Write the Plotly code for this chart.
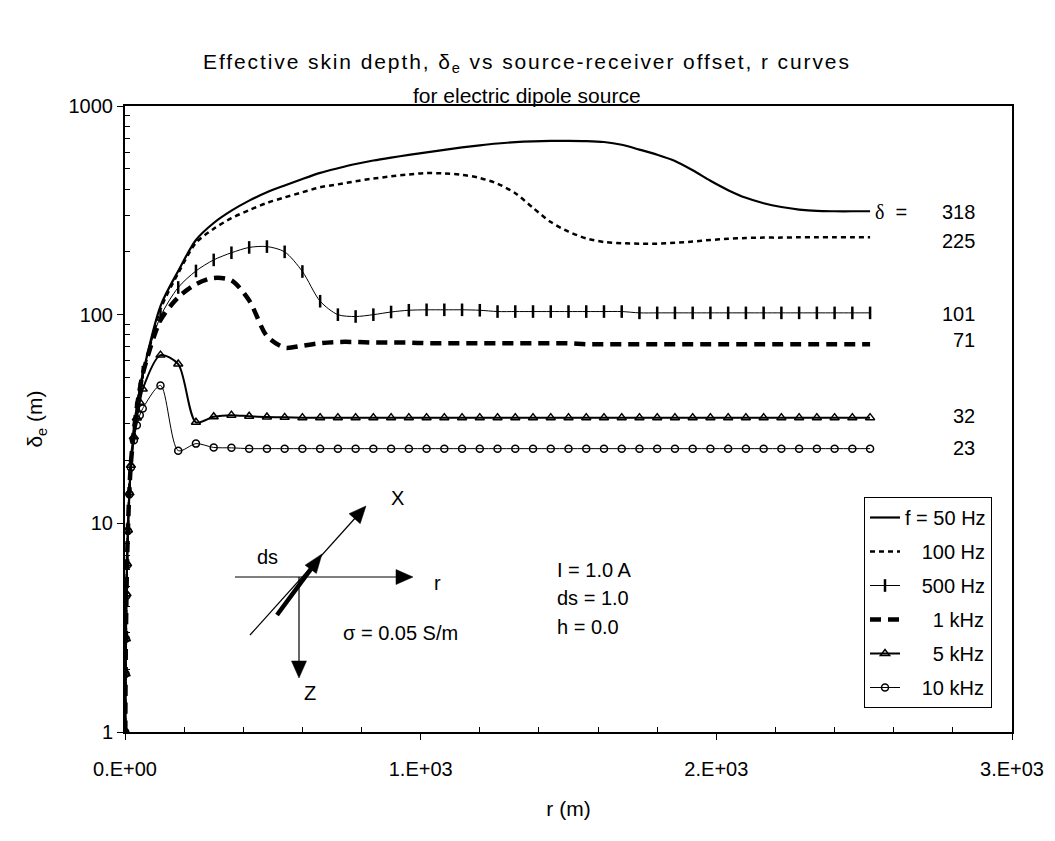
import math
import plotly.graph_objects as go

# ---------------- data ----------------
r_near = [1, 2, 3, 5, 7, 10, 15, 20, 30, 40, 50]
r_far = [60, 120, 180, 240, 300, 360,
         420, 480, 540, 600, 660, 720,
         780, 840, 900, 960, 1020, 1080,
         1140, 1200, 1260, 1320, 1380, 1440,
         1500, 1560, 1620, 1680, 1740, 1800,
         1860, 1920, 1980, 2040, 2100, 2160,
         2220, 2280, 2340, 2400, 2460, 2520]
r_m = r_near + r_far

d_50hz = [1.0, 1.9, 2.8, 4.6, 6.5, 9.5, 14.5, 19.5, 27.5, 36, 44,
          52, 110, 162, 228, 275, 315,
          352, 386, 416, 447, 478, 503,
          527, 548, 566, 583, 600, 616,
          633, 648, 661, 671, 677, 680,
          681, 679, 672, 652, 618, 584,
          545, 492, 438, 395, 363, 342,
          328, 319, 314, 313, 313, 313]
d_100hz = [1.0, 1.9, 2.8, 4.6, 6.5, 9.5, 14.5, 19.5, 27.5, 36, 44,
           51, 106, 158, 221, 258, 290,
           317, 343, 365, 386, 408, 421,
           436, 449, 460, 470, 477, 475,
           468, 452, 424, 382, 325, 278,
           250, 232, 223, 220, 219, 219,
           221, 224, 228, 231, 233, 234,
           234, 235, 235, 235, 235, 235]
d_500hz = [1.0, 1.9, 2.8, 4.6, 6.5, 9.5, 14.5, 19.5, 27.5, 36, 44,
           53, 98, 135, 162, 183, 198,
           210, 212, 200, 161, 116, 100,
           98, 100, 103, 105, 105.5, 105.5,
           105.5, 105, 103.5, 103.5, 103.5, 103.5,
           103.5, 103.5, 103.5, 103.5, 102, 102,
           102, 102, 102, 102, 102, 102,
           102, 102, 102, 102, 102, 102]
d_1khz = [1.0, 1.9, 2.8, 4.6, 6.5, 9.5, 14.5, 19.5, 27.5, 36, 44,
          52, 94, 121, 140, 150, 146,
          117, 79, 69.5, 71, 73, 74,
          74, 73.5, 73.5, 73.5, 73, 73,
          73, 73, 73, 73, 73, 73,
          73, 72.2, 72.2, 72.2, 72.2, 72.2,
          72.2, 72.2, 72.2, 72.2, 72.2, 72.2,
          72.2, 72.2, 72.2, 72.2, 72.2, 72.2]
d_5khz = [1.0, 1.9, 2.8, 4.6, 6.4, 9.3, 14, 19, 26, 32, 38,
          44, 64, 58, 30.5, 32.4, 33,
          32.6, 32.3, 32.2, 32.1, 32.1, 32.1,
          32.1, 32.1, 32.1, 32.1, 32.1, 32.1,
          32.1, 32.1, 32.1, 32.1, 32.1, 32.1,
          32.1, 32.1, 32.1, 32.1, 32.1, 32.1,
          32.1, 32.1, 32.1, 32.1, 32.1, 32.1,
          32.1, 32.1, 32.1, 32.1, 32.1, 32.1]
d_10khz = [1.0, 1.9, 2.8, 4.5, 6.3, 9.2, 13.8, 18.5, 25, 29.5, 33,
           35.5, 45.8, 22.3, 24.1, 23.1, 23.0,
           22.8, 22.8, 22.8, 22.8, 22.8, 22.8,
           22.8, 22.8, 22.8, 22.8, 22.8, 22.8,
           22.8, 22.8, 22.8, 22.8, 22.8, 22.8,
           22.8, 22.8, 22.8, 22.8, 22.8, 22.8,
           22.8, 22.8, 22.8, 22.8, 22.8, 22.8,
           22.8, 22.8, 22.8, 22.8, 22.8, 22.8]

NB = "\u00a0"
legend_names = ["f = 50 Hz", NB * 3 + "100 Hz", NB * 3 + "500 Hz",
                NB * 5 + "1 kHz", NB * 5 + "5 kHz", NB * 3 + "10 kHz"]
skin_depth_labels = [318, 225, 101, 71, 32, 23]
label_yshift = [-2, 0, 0, 6, 2, 0]

x_tickvals = [0, 1000, 2000, 3000]
x_ticktext = ["0.E+00", "1.E+03", "2.E+03", "3.E+03"]
y_tickvals = [1, 10, 100, 1000]
y_ticktext = ["1", "10", "100", "1000"]

# ---------------- figure ----------------
FONT = "Arial, Liberation Sans, sans-serif"
W, H = 1055, 841
L, R, T, B = 125, 1012, 106, 732   # plot area in pixels


def px(xp):
    return (xp - L) / (R - L)


def py(yp):
    return (B - yp) / (B - T)


fig = go.Figure()
sp = dict(shape="spline", smoothing=0.8)
fig.add_trace(go.Scatter(x=r_m, y=d_50hz, name=legend_names[0], mode="lines",
                         line=dict(color="black", width=2.2, **sp), legendgroup="a"))
fig.add_trace(go.Scatter(x=r_m, y=d_100hz, name=legend_names[1], mode="lines",
                         line=dict(color="black", width=2.5, dash="5px,4px", **sp), legendgroup="b"))
fig.add_trace(go.Scatter(x=r_m, y=d_500hz, name=legend_names[2], mode="lines+markers",
                         line=dict(color="black", width=1, **sp),
                         marker=dict(symbol="line-ns", size=9, color="black",
                                     line=dict(color="black", width=2.5)), legendgroup="c"))
fig.add_trace(go.Scatter(x=r_m, y=d_1khz, name=legend_names[3], mode="lines",
                         line=dict(color="black", width=4.5, dash="11px,7px", **sp), legendgroup="d"))
fig.add_trace(go.Scatter(x=r_m, y=d_5khz, name=legend_names[4], mode="lines+markers",
                         line=dict(color="black", width=2, **sp),
                         marker=dict(symbol="triangle-up-open", size=8, color="black",
                                     line=dict(color="black", width=1.5)), legendgroup="e"))
fig.add_trace(go.Scatter(x=r_m, y=d_10khz, name=legend_names[5], mode="lines+markers",
                         line=dict(color="black", width=1, **sp),
                         marker=dict(symbol="circle-open", size=7, color="black",
                                     line=dict(color="black", width=1.5)), legendgroup="f"))

annotations = []
# title (two lines)
annotations.append(dict(text="<span style='letter-spacing:1.9px'>Effective skin depth, δ<sub>e</sub> vs "
                             "source-receiver offset, r curves</span>",
                        xref="paper", yref="paper", x=px(527), y=py(63), showarrow=False,
                        xanchor="center", yanchor="middle", font=dict(size=21)))
annotations.append(dict(text="for electric dipole source",
                        xref="paper", yref="paper", x=px(527), y=py(96), showarrow=False,
                        xanchor="center", yanchor="middle", font=dict(size=21)))

# right-hand skin-depth labels
for v, ys in zip(skin_depth_labels, label_yshift):
    annotations.append(dict(text=str(v), xref="paper", yref="y", x=px(977), y=math.log10(v),
                            xanchor="right", yanchor="middle", yshift=ys,
                            showarrow=False, font=dict(size=20)))
annotations.append(dict(text="<span style='font-family:Liberation Serif, Times New Roman, serif'>δ</span>&nbsp;&nbsp;=",
                        xref="paper", yref="y", x=px(873), y=math.log10(skin_depth_labels[0]),
                        xanchor="left", yanchor="middle", yshift=label_yshift[0],
                        showarrow=False, font=dict(size=20)))


# inset diagram: arrows drawn as shapes (tail x0,y0 -> tip x1,y1 in pixels)
shapes = []


def arrow(x0, y0, x1, y1, width, hl, hw):
    dx, dy = x1 - x0, y1 - y0
    n = math.hypot(dx, dy)
    ux, uy = dx / n, dy / n
    bx, by = x1 - hl * ux, y1 - hl * uy
    nx, ny = -uy, ux
    shapes.append(dict(type="line", xref="paper", yref="paper",
                       x0=px(x0), y0=py(y0), x1=px(bx + 0.5 * ux), y1=py(by + 0.5 * uy),
                       line=dict(color="black", width=width)))
    pts = [(x1, y1), (bx + hw * nx, by + hw * ny), (bx - hw * nx, by - hw * ny)]
    path = "M " + " L ".join(f"{px(a):.5f},{py(b):.5f}" for a, b in pts) + " Z"
    shapes.append(dict(type="path", xref="paper", yref="paper", path=path,
                       fillcolor="black", line=dict(color="black", width=0.5)))


arrow(235, 577, 413, 577, 1.2, 17, 7.5)     # r
arrow(299, 577, 299, 678, 1.2, 17, 7.5)     # Z
arrow(250, 635, 366, 506, 1.2, 17, 7.5)     # X
arrow(277, 615, 322, 554, 4.5, 19, 7)       # ds


def label(text, x, y, anchor="center"):
    return dict(text=text, xref="paper", yref="paper", x=px(x), y=py(y), xanchor=anchor,
                yanchor="middle", showarrow=False, font=dict(size=20))


annotations += [
    label("X", 397, 498), label("ds", 267, 557), label("r", 437, 583), label("Z", 310, 693),
    label("σ = 0.05 S/m", 341, 633, "left"),
    label("I = 1.0 A", 555, 570, "left"), label("ds = 1.0", 555, 598, "left"),
    label("h = 0.0", 555, 627, "left"),
]

x_minor = [v for v in range(200, 3000, 200) if v % 1000 != 0]
y_minor = [m * 10 ** e for e in range(0, 3) for m in range(2, 10)]

fig.update_layout(
    width=W, height=H,
    margin=dict(l=L, r=W - R, t=T, b=H - B, autoexpand=False),
    paper_bgcolor="white", plot_bgcolor="white",
    font=dict(family=FONT, size=20, color="black"),
    showlegend=True,
    legend=dict(x=px(864), y=py(497), xanchor="left", yanchor="top",
                bordercolor="black", borderwidth=1, bgcolor="white",
                font=dict(size=20), tracegroupgap=5, itemwidth=30),
    annotations=annotations,
    shapes=shapes,
    xaxis=dict(range=[0, 3000], tickmode="array", tickvals=x_tickvals, ticktext=x_ticktext,
               showgrid=False, zeroline=False, showline=True, linecolor="black", linewidth=2,
               mirror=True, ticks="outside", ticklen=6, tickwidth=1, tickcolor="black",
               ticklabelstandoff=12,
               minor=dict(tickmode="array", tickvals=x_minor, ticks="inside", ticklen=5,
                          tickcolor="black", showgrid=False),
               title=dict(text="r (m)", font=dict(size=21), standoff=22),
               tickfont=dict(size=20)),
    yaxis=dict(type="log", range=[0, 3], tickmode="array", tickvals=y_tickvals, ticktext=y_ticktext,
               showgrid=False, zeroline=False, showline=True, linecolor="black", linewidth=2,
               mirror=True, ticks="outside", ticklen=6, tickwidth=1, tickcolor="black",
               minor=dict(tickmode="array", tickvals=y_minor, ticks="inside", ticklen=5,
                          tickcolor="black", showgrid=False),
               title=dict(text="δ<sub>e</sub> (m)", font=dict(size=21), standoff=20),
               tickfont=dict(size=20)),
)

fig.write_html("out.html", config={"displayModeBar": False},
               post_script="document.body.style.margin='0px';")
